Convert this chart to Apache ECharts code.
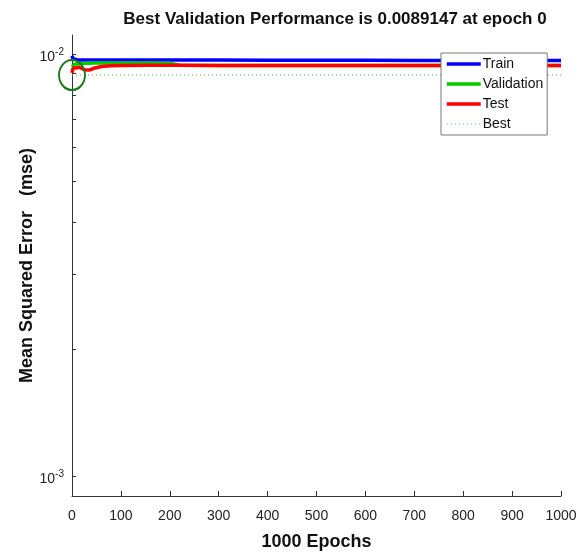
<!DOCTYPE html>
<html style="height: 100%">
<head>
  <meta charset="UTF-8">
  <title>Best Validation Performance</title>
  <script src="https://cdn.jsdelivr.net/npm/echarts@6/dist/echarts.min.js"></script>
  <style>
    html, body {
      margin: 0;
      height: 100%;
      width: 100%;
      background: #fff;
    }
    #main {
      width: 587px;
      height: 552px;
    }
  </style>
</head>
<body>
  <div id="main"></div>
  <script>
    // training record
    const epochs     = [0, 2, 5, 10, 15, 25, 35, 45, 60, 80, 100, 150, 200, 220, 300, 400, 500, 600, 700, 800, 900, 1000];
    const train      = [0.0099, 0.00974, 0.00970, 0.00969, 0.00968, 0.00968, 0.00968, 0.00968, 0.00968, 0.00968, 0.00968, 0.00968, 0.00967, 0.00967, 0.00967, 0.00966, 0.00966, 0.00966, 0.00965, 0.00965, 0.00965, 0.00965];
    const validation = [0.00932, 0.00942, 0.00945, 0.00947, 0.00948, 0.0095, 0.00951, 0.00952, 0.00952, 0.00952, 0.00952, 0.00952, 0.00951, 0.00940, 0.00939, 0.00939, 0.00939, 0.00939, 0.00939, 0.00939, 0.00939, 0.00939];
    const test       = [0.00902, 0.00925, 0.00926, 0.00927, 0.00930, 0.00918, 0.00916, 0.00925, 0.00934, 0.00938, 0.00939, 0.00940, 0.00940, 0.00940, 0.00939, 0.00939, 0.00939, 0.00939, 0.00939, 0.00939, 0.00939, 0.00939];
    const bestEpoch = 0;
    const bestPerf = 0.0089147;
    const xTicks = [0, 1000, 100];
    const yLabelValues = [0.001, 0.01];
    const yTickValues = [0.001, 0.002, 0.003, 0.004, 0.005, 0.006, 0.007, 0.008, 0.009, 0.01];

    const pairs = ys => epochs.map((e, i) => [e, ys[i]]);
    const font = 'Liberation Sans, Arial, sans-serif';
    const thick = { width: 3.5 };

    const chart = echarts.init(document.getElementById('main'));
    chart.setOption({
      animation: false,
      textStyle: { fontFamily: font },
      title: {
        text: 'Best Validation Performance is ' + bestPerf + ' at epoch ' + bestEpoch,
        left: 330,
        textAlign: 'center',
        top: 6,
        textStyle: { fontSize: 17, fontWeight: 'bold', color: '#111', fontFamily: font }
      },
      legend: {
        orient: 'vertical',
        left: 441,
        top: 53,
        padding: [4, 4, 4, 4],
        itemGap: 6,
        itemWidth: 34,
        itemHeight: 14,
        borderColor: '#777',
        borderWidth: 1,
        backgroundColor: '#fff',
        itemStyle: { opacity: 0 },
        textStyle: { fontSize: 14, color: '#111', padding: [0, 0, 0, -3] },
        data: [
          { name: 'Train', lineStyle: thick },
          { name: 'Validation', lineStyle: thick },
          { name: 'Test', lineStyle: thick },
          { name: 'Best', lineStyle: { width: 1 } }
        ]
      },
      grid: { left: 72, right: 26, top: 35, bottom: 56, outerBoundsMode: 'none' },
      xAxis: {
        type: 'value',
        min: xTicks[0],
        max: xTicks[1],
        interval: xTicks[2],
        name: '1000 Epochs',
        nameLocation: 'middle',
        nameGap: 37,
        nameMoveOverlap: false,
        nameTextStyle: { fontSize: 18, fontWeight: 'bold', color: '#111' },
        axisLine: { lineStyle: { color: '#333', width: 1 } },
        axisTick: { inside: true, length: 5, lineStyle: { color: '#333' } },
        axisLabel: { fontSize: 14, color: '#222', margin: 13, formatter: v => String(v) },
        splitLine: { show: false }
      },
      yAxis: {
        type: 'log',
        logBase: 10,
        min: 0.000897,
        max: 0.01109,
        name: 'Mean Squared Error   (mse)',
        nameLocation: 'middle',
        nameGap: 36,
        nameMoveOverlap: false,
        nameTextStyle: { fontSize: 18, fontWeight: 'bold', color: '#111' },
        axisLine: { onZero: false, lineStyle: { color: '#333', width: 1 } },
        axisTick: {
          inside: true,
          length: 4,
          customValues: yTickValues,
          lineStyle: { color: '#333' }
        },
        axisLabel: {
          customValues: yLabelValues,
          margin: 8,
          formatter: v => '{b|10}{s|' + Math.round(Math.log10(v)) + '}',
          rich: {
            b: { fontSize: 14, color: '#222', padding: [6, 0, 0, 0] },
            s: { fontSize: 10, color: '#222', padding: [0, 0, 4, 0] }
          }
        },
        splitLine: { show: false }
      },
      series: [
        {
          name: 'Train',
          type: 'line',
          data: pairs(train),
          showSymbol: false,
          symbol: 'none',
          color: '#0000ff',
          lineStyle: thick
        },
        {
          name: 'Validation',
          type: 'line',
          data: pairs(validation),
          showSymbol: false,
          symbol: 'none',
          color: '#00cc00',
          lineStyle: thick
        },
        {
          name: 'Test',
          type: 'line',
          data: pairs(test),
          showSymbol: false,
          symbol: 'none',
          color: '#ff0000',
          lineStyle: thick
        },
        {
          name: 'Best',
          type: 'line',
          data: [[xTicks[0], bestPerf], [xTicks[1], bestPerf]],
          showSymbol: false,
          symbol: 'none',
          color: '#4caf50',
          lineStyle: { width: 1, type: [1, 3] },
          markPoint: {
            silent: true,
            symbol: 'circle',
            symbolSize: [26, 30],
            itemStyle: { color: 'rgba(0,0,0,0)', borderColor: '#1a7a1a', borderWidth: 2 },
            label: { show: false },
            data: [{ coord: [bestEpoch, bestPerf] }]
          }
        }
      ]
    });
  </script>
</body>
</html>
